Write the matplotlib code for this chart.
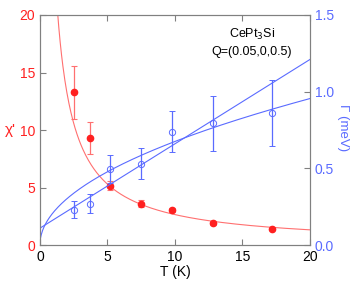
import matplotlib
matplotlib.use("Agg")
import matplotlib.pyplot as plt
import numpy as np

plt.rcParams["font.family"] = ["Liberation Sans", "DejaVu Sans"]

RED = "#ff2020"
RED_LINE = "#ff7070"
BLUE = "#5a6bff"
GREY = "#808080"

# susceptibility chi'
T_chi = [2.5, 3.7, 5.2, 7.5, 9.8, 12.8, 17.2]
chi = [13.3, 9.3, 5.15, 3.6, 3.05, 1.9, 1.4]
chi_err = [2.3, 1.4, 0.4, 0.3, 0.2, 0.15, 0.1]

# linewidth Gamma
T_gam = [2.5, 3.7, 5.2, 7.5, 9.8, 12.8, 17.2]
gam = [0.23, 0.27, 0.495, 0.53, 0.74, 0.795, 0.86]
gam_err = [0.055, 0.06, 0.09, 0.1, 0.135, 0.18, 0.215]

# fit parameters
C_curie = 26.5
lin_a, lin_b = 0.11, 0.055
sqrt_a = 0.2136

fig = plt.figure(figsize=(3.53, 2.83), dpi=100)
ax = fig.add_axes([0.113, 0.134, 0.765, 0.813])
ax2 = ax.twinx()

Tf = np.linspace(0.05, 20, 400)
ax.plot(Tf, C_curie / Tf, color=RED_LINE, lw=0.8)
ax.errorbar(T_chi, chi, yerr=chi_err, fmt="o", color=RED, ms=4.5,
            ecolor=RED_LINE, elinewidth=0.9, capsize=2, capthick=0.8)

ax2.plot(Tf, lin_a + lin_b * Tf, color=BLUE, lw=0.8)
ax2.plot(Tf, sqrt_a * np.sqrt(Tf), color=BLUE, lw=0.8)
ax2.errorbar(T_gam, gam, yerr=gam_err, fmt="o", mfc="none", mec=BLUE,
             color=BLUE, ms=4.5, mew=0.7, elinewidth=0.9, capsize=2,
             capthick=0.8)

ax.set_xlim(0, 20)
ax.set_ylim(0, 20)
ax2.set_ylim(0, 1.5)
ax.set_xticks([0, 5, 10, 15, 20])
ax.set_yticks([0, 5, 10, 15, 20])
ax2.set_yticks([0, 0.5, 1.0, 1.5])
ax2.set_yticklabels(["0.0", "0.5", "1.0", "1.5"])

for a in (ax, ax2):
    for s in a.spines.values():
        s.set_color(GREY)
ax.tick_params(axis="x", direction="in", top=True, colors=GREY,
               labelcolor="black", labelsize=10, length=4)
ax.tick_params(axis="y", direction="in", colors=GREY, labelcolor=RED,
               labelsize=10, length=4)
ax2.tick_params(axis="y", direction="in", colors=GREY, labelcolor=BLUE,
                labelsize=10, length=4)

ax.set_xlabel("T (K)", fontsize=10, labelpad=1)

# axis labels placed by hand (axes coords)
ax.text(-0.11, 0.5, "χ'", color=RED, fontsize=11, ha="center", va="center",
        transform=ax.transAxes)
ax.text(1.122, 0.51, "Γ (meV)", color=BLUE, fontsize=9.5, ha="center",
        va="center", rotation=-90, transform=ax.transAxes)

ax.text(15.7, 17.6, "CePt$_3$Si\nQ=(0.05,0,0.5)", ha="center", va="center",
        fontsize=9, linespacing=1.45)

fig.savefig("out.png", dpi=100)
